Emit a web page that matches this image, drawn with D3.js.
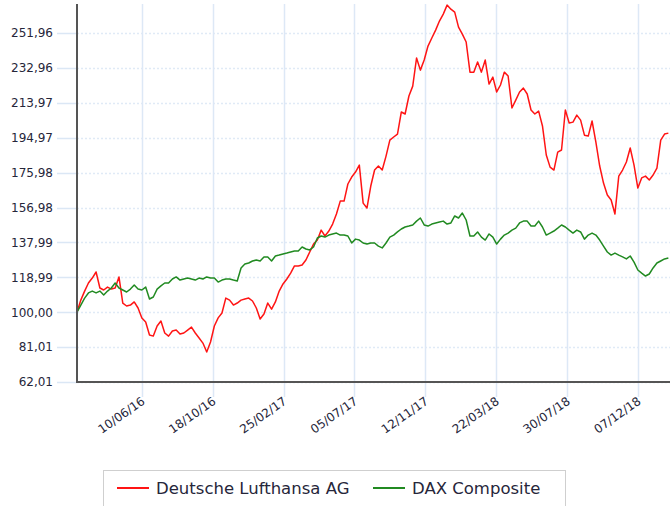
<!DOCTYPE html>
<html>
<head>
<meta charset="utf-8">
<script src="https://cdn.jsdelivr.net/npm/d3@7"></script>
<style>
    body { margin: 0; background: #fff; }
    #chart { width: 670px; height: 506px; }
    text { font-family: "DejaVu Sans", Verdana, sans-serif; }
</style>
</head>
<body>
<div id="chart"></div>
<script>
// Weekly closes, rebased to 100 at the first date
const startDate = '2016-02-12';
const endDate = '2019-02-04';

const xTickLabels = ['10/06/16', '18/10/16', '25/02/17', '05/07/17', '12/11/17', '22/03/18', '30/07/18', '07/12/18'];
const yTickValues = [62.01, 81.01, 100.00, 118.99, 137.99, 156.98, 175.98, 194.97, 213.97, 232.96, 251.96];
const yTickLabels = ['62,01', '81,01', '100,00', '118,99', '137,99', '156,98', '175,98', '194,97', '213,97', '232,96', '251,96'];

const seriesNames = ['Deutsche Lufthansa AG', 'DAX Composite'];
const seriesColors = ['#ff1414', '#218a21'];

const lufthansa = [
    100.0, 106.6, 111.5, 115.9, 118.6, 121.9, 113.2, 112.1, 113.7, 112.6,
    113.2, 119.2, 105.0, 103.4, 103.9, 105.6, 102.3, 96.9, 94.7, 87.6,
    87.0, 92.5, 95.2, 88.7, 87.0, 89.8, 90.3, 88.1, 88.7, 90.3,
    91.9, 88.7, 86.0, 83.2, 78.3, 83.8, 92.5, 96.9, 99.6, 107.7,
    106.6, 103.9, 105.0, 106.6, 107.2, 107.7, 106.1, 102.3, 96.3, 99.0,
    105.0, 101.7, 105.6, 111.5, 115.4, 118.1, 121.3, 125.2, 125.2, 125.7,
    128.4, 132.8, 137.1, 139.3, 144.7, 141.5, 144.2, 148.0, 153.5, 160.5,
    160.5, 169.8, 173.6, 176.3, 180.1, 159.4, 156.7, 168.7, 177.4, 179.6,
    177.4, 185.0, 193.7, 195.4, 197.0, 209.0, 207.9, 217.7, 223.1, 238.4,
    231.8, 237.3, 244.9, 249.3, 253.6, 258.5, 262.3, 267.2, 265.0, 263.4,
    255.2, 251.4, 247.1, 230.7, 230.7, 236.2, 230.7, 237.3, 224.2, 228.0,
    219.9, 223.7, 230.7, 228.6, 211.2, 215.5, 219.9, 222.0, 218.8, 210.1,
    207.9, 209.5, 201.4, 185.6, 179.0, 177.4, 187.2, 188.3, 210.1, 203.0,
    203.5, 207.3, 204.6, 196.4, 195.9, 204.1, 192.6, 179.6, 170.3, 163.8,
    161.1, 153.5, 174.1, 177.4, 181.8, 189.4, 180.1, 167.6, 173.1, 174.1,
    172.0, 174.7, 178.5, 193.7, 197.0, 197.5
];

const dax = [
    100.0, 103.9, 107.7, 110.5, 111.5, 110.5, 111.5, 109.4, 111.5, 113.2,
    115.9, 113.2, 112.1, 111.0, 112.6, 114.8, 112.6, 112.1, 113.7, 107.2,
    108.3, 112.6, 114.3, 115.9, 115.9, 118.1, 119.2, 117.5, 118.1, 118.6,
    118.1, 117.5, 118.6, 118.1, 119.2, 118.6, 118.6, 116.4, 117.5, 118.1,
    118.1, 117.5, 117.0, 124.1, 126.2, 126.8, 127.9, 128.4, 127.9, 130.1,
    130.1, 127.9, 130.6, 131.1, 131.7, 132.2, 132.8, 133.3, 133.3, 135.5,
    134.4, 133.9, 135.5, 140.4, 141.5, 140.9, 142.0, 142.6, 143.1, 142.0,
    142.0, 141.5, 137.7, 139.8, 139.3, 137.7, 137.1, 137.7, 137.7, 136.0,
    135.0, 137.7, 140.9, 142.0, 143.7, 145.3, 146.4, 146.9, 147.5, 149.6,
    151.3, 147.5, 146.9, 148.0, 148.6, 149.1, 149.6, 148.0, 148.6, 152.4,
    151.3, 154.0, 150.2, 141.5, 141.5, 143.7, 140.9, 139.3, 142.6, 140.9,
    137.1, 139.8, 142.0, 143.1, 144.7, 145.8, 148.6, 149.6, 149.6, 146.9,
    146.9, 149.6, 146.4, 142.0, 143.1, 144.2, 145.8, 147.5, 146.4, 144.7,
    143.1, 144.7, 143.7, 139.8, 142.0, 143.1, 142.0, 139.3, 136.0, 132.8,
    131.1, 132.2, 131.1, 130.1, 129.0, 130.6, 127.3, 123.0, 121.3, 119.7,
    120.8, 124.1, 126.8, 127.9, 129.0, 129.5
];

document.addEventListener('DOMContentLoaded', function() {
    const width = 670;
    const height = 506;
    const plot = { left: 77, right: 670, top: 4, bottom: 382 };

    const parseIso = d3.timeParse('%Y-%m-%d');
    const parseTick = d3.timeParse('%d/%m/%y');
    const start = parseIso(startDate);

    // one point per week
    const dates = lufthansa.map((d, i) => d3.timeDay.offset(start, i * 7));

    const x = d3.scaleTime()
        .domain([start, parseIso(endDate)])
        .range([plot.left, plot.right]);

    const y = d3.scaleLinear()
        .domain([62.01, 267.8])
        .range([plot.bottom, plot.top]);

    const svg = d3.select('#chart').append('svg')
        .attr('width', width)
        .attr('height', height);

    // Horizontal grid (dotted) + short tick stubs left of the axis
    const yTicks = svg.append('g').attr('class', 'y-grid');
    yTicks.selectAll('line.grid')
        .data(yTickValues)
        .enter().append('line')
        .attr('class', 'grid')
        .attr('x1', plot.left)
        .attr('x2', plot.right)
        .attr('y1', d => Math.round(y(d)) + 0.5)
        .attr('y2', d => Math.round(y(d)) + 0.5)
        .attr('stroke', '#e0eaf6')
        .attr('stroke-width', 1.5)
        .attr('stroke-dasharray', '2,2');

    yTicks.selectAll('line.stub')
        .data(yTickValues)
        .enter().append('line')
        .attr('class', 'stub')
        .attr('x1', 57)
        .attr('x2', plot.left)
        .attr('y1', d => Math.round(y(d)) + 0.5)
        .attr('y2', d => Math.round(y(d)) + 0.5)
        .attr('stroke', '#dbe7f5')
        .attr('stroke-width', 1.5);

    yTicks.selectAll('text')
        .data(yTickValues)
        .enter().append('text')
        .attr('x', 53)
        .attr('y', d => y(d))
        .attr('dy', '0.36em')
        .attr('text-anchor', 'end')
        .attr('font-size', '12px')
        .attr('fill', '#26263a')
        .text((d, i) => yTickLabels[i]);

    // Vertical grid, runs a bit below the axis
    const xTickDates = xTickLabels.map(parseTick);
    const xTicks = svg.append('g').attr('class', 'x-grid');
    xTicks.selectAll('line')
        .data(xTickDates)
        .enter().append('line')
        .attr('x1', d => Math.round(x(d)) + 0.5)
        .attr('x2', d => Math.round(x(d)) + 0.5)
        .attr('y1', plot.top)
        .attr('y2', 397)
        .attr('stroke', '#dde8f6')
        .attr('stroke-width', 1.5);

    xTicks.selectAll('text')
        .data(xTickDates)
        .enter().append('text')
        .attr('transform', d => `translate(${x(d) + 4}, 403) rotate(-35)`)
        .attr('text-anchor', 'end')
        .attr('font-size', '12px')
        .attr('fill', '#26263a')
        .text((d, i) => xTickLabels[i]);

    // Series lines
    const line = d3.line()
        .x((d, i) => x(dates[i]))
        .y(d => y(d));

    [lufthansa, dax].forEach((values, i) => {
        svg.append('path')
            .datum(values)
            .attr('fill', 'none')
            .attr('stroke', seriesColors[i])
            .attr('stroke-width', 1.5)
            .attr('stroke-linejoin', 'round')
            .attr('d', line);
    });

    // Axis lines
    svg.append('line')
        .attr('x1', plot.left).attr('x2', plot.left)
        .attr('y1', plot.top).attr('y2', plot.bottom + 1)
        .attr('stroke', '#555')
        .attr('stroke-width', 2);

    svg.append('line')
        .attr('x1', plot.left).attr('x2', plot.right)
        .attr('y1', plot.bottom).attr('y2', plot.bottom)
        .attr('stroke', '#555')
        .attr('stroke-width', 2);

    // Legend
    const legend = svg.append('g').attr('class', 'legend');
    legend.append('rect')
        .attr('x', 103.5)
        .attr('y', 470.5)
        .attr('width', 462)
        .attr('height', 45)
        .attr('fill', '#fff')
        .attr('stroke', '#cfcfcf');

    const legendX = [117, 373];
    seriesNames.forEach((name, i) => {
        legend.append('line')
            .attr('x1', legendX[i])
            .attr('x2', legendX[i] + 32)
            .attr('y1', 488)
            .attr('y2', 488)
            .attr('stroke', seriesColors[i])
            .attr('stroke-width', 2);
        legend.append('text')
            .attr('x', legendX[i] + 39)
            .attr('y', 488)
            .attr('dy', '0.36em')
            .attr('font-size', '16.5px')
            .attr('fill', '#26263a')
            .text(name);
    });
});
</script>
</body>
</html>
